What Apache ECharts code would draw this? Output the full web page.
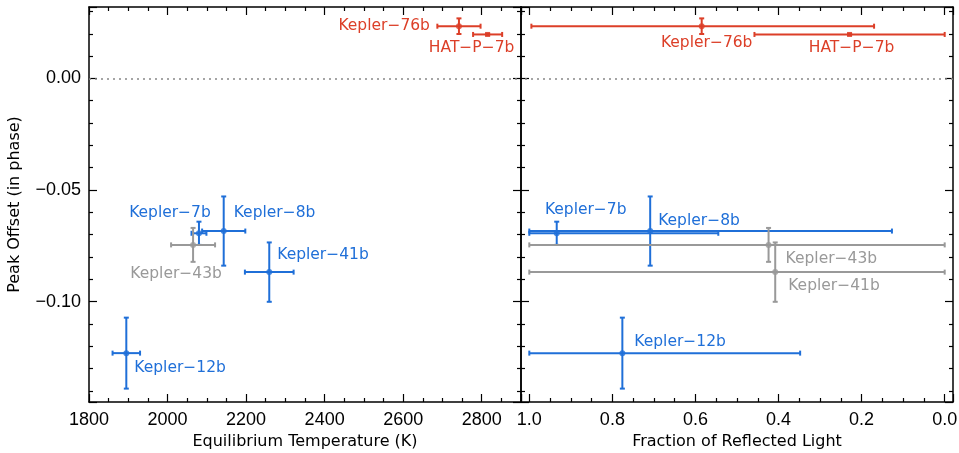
<!DOCTYPE html>
<html><head><meta charset="utf-8">
<script src="https://cdn.jsdelivr.net/npm/echarts@6/dist/echarts.min.js"></script>
<style>html,body{margin:0;padding:0;background:#fff}#c{width:959px;height:453px}</style>
</head><body><div id="c"></div>
<script>
// ---- data ----
const planets = ['Kepler-76b','HAT-P-7b','Kepler-7b','Kepler-8b','Kepler-43b','Kepler-41b','Kepler-12b'];
const groupsTemp = ['red','red','blue','blue','grey','blue','blue'];
const groupsRefl = ['red','red','blue','blue','grey','grey','blue'];
const teq = [2742, 2815, 2080, 2143, 2065, 2259, 1895];
const teqErr = [55, 37, 19, 55, 56, 62, 35];
const peakOffset = [0.0234, 0.0197, -0.0694, -0.0684, -0.0746, -0.0868, -0.1231];
const peakOffsetErr = [0.0035, 0.0004, 0.0052, 0.0155, 0.0076, 0.0133, 0.0159];
const reflFrac = [0.585, 0.229, 0.934, 0.709, 0.424, 0.408, 0.776];
const reflLow = [0.17, 0.0, 0.545, 0.127, 0.0, 0.0, 0.348];
const reflHigh = [0.995, 0.458, 1.0, 1.0, 1.0, 1.0, 1.0];
const tempTickLabels = [1800, 2000, 2200, 2400, 2600, 2800];
const reflTickLabels = [1.0, 0.8, 0.6, 0.4, 0.2, 0.0];
const offsetTickLabels = [0.00, -0.05, -0.10];

// ---- styles ----
const colors = {red: '#dc3f28', blue: '#1f6fd8', grey: '#999999'};
const labelFont = '15.5px "DejaVu Sans"';
const tickFont = 'Liberation Sans';
// label placement (pixel offsets from the point, style only)
const leftLabelPos = [
  {dx:-29, dy:0, align:'right'}, {dx:-16, dy:14, align:'center'}, {dx:-29, dy:-20, align:'center'},
  {dx:10, dy:-18, align:'left'}, {dx:-17, dy:29, align:'center'}, {dx:8, dy:-17, align:'left'},
  {dx:8, dy:15, align:'left'}
];
const rightLabelPos = [
  {dx:5, dy:17, align:'center'}, {dx:2, dy:14, align:'center'}, {dx:29, dy:-23, align:'center'},
  {dx:8, dy:-10, align:'left'}, {dx:17, dy:14, align:'left'}, {dx:13, dy:14, align:'left'},
  {dx:12, dy:-11, align:'left'}
];

const near = (v, arr, eps) => arr.some(a => Math.abs(a - v) < eps);
const fmtSigned = (v, d) => (v < -1e-9 ? '\u2212' : '') + Math.abs(v).toFixed(d);

function errRender(groups) {
  return function (params, api) {
    const x = api.value(0), y = api.value(1);
    const c = api.coord([x, y]);
    const l = api.coord([api.value(2), y]);
    const r = api.coord([api.value(3), y]);
    const t = api.coord([x, api.value(5)]);
    const b = api.coord([x, api.value(4)]);
    const color = colors[groups[api.value(6)]];
    const st = {stroke: color, lineWidth: 2, fill: null};
    const cap = 2.5;
    const L = (x1, y1, x2, y2) => ({type: 'line', shape: {x1, y1, x2, y2}, style: st});
    return {type: 'group', children: [
      L(l[0], c[1], r[0], c[1]),
      L(l[0], c[1] - cap, l[0], c[1] + cap),
      L(r[0], c[1] - cap, r[0], c[1] + cap),
      L(c[0], t[1], c[0], b[1]),
      L(c[0] - cap, t[1], c[0] + cap, t[1]),
      L(c[0] - cap, b[1], c[0] + cap, b[1])
    ]};
  };
}
function labelRender(pos, groups) {
  return function (params, api) {
    const i = api.value(2);
    const c = api.coord([api.value(0), api.value(1)]);
    const p = pos[i];
    return {type: 'text', x: c[0] + p.dx, y: c[1] + p.dy, style: {
      text: planets[i].replace(/-/g, '\u2212'), fill: colors[groups[i]], font: labelFont,
      align: p.align, verticalAlign: 'middle'}};
  };
}

const leftErr = planets.map((n, i) => [teq[i], peakOffset[i], teq[i] - teqErr[i], teq[i] + teqErr[i],
  peakOffset[i] - peakOffsetErr[i], peakOffset[i] + peakOffsetErr[i], i]);
const rightErr = planets.map((n, i) => [reflFrac[i], peakOffset[i], reflLow[i], reflHigh[i],
  peakOffset[i] - peakOffsetErr[i], peakOffset[i] + peakOffsetErr[i], i]);
const mkPts = (xs, groups) => planets.map((n, i) => ({value: [xs[i], peakOffset[i], i],
  symbol: n === 'HAT-P-7b' ? 'rect' : 'circle', symbolSize: n === 'HAT-P-7b' ? 5 : 6,
  itemStyle: {color: colors[groups[i]]}}));
const leftPts = mkPts(teq, groupsTemp);
const rightPts = mkPts(reflFrac, groupsRefl);

const axLine = {show: true, onZero: false, lineStyle: {color: '#000', width: 1.5}};
const axTick = {show: true, inside: true, length: 8, lineStyle: {color: '#000', width: 1.2}};
const minorT = n => ({show: true, splitNumber: n, length: 4, lineStyle: {color: '#000', width: 1.2}});
const nameStyle = {fontFamily: 'DejaVu Sans', fontSize: 16, color: '#000'};

const zeroLine = {silent: true, symbol: ['none', 'none'], label: {show: false},
  lineStyle: {type: [2, 4], color: '#888', width: 1.5}, data: [{yAxis: 0}], animation: false};

const yBase = {type: 'value', min: -0.145, max: 0.032, splitNumber: 3, axisLine: axLine, axisTick: axTick,
  minorTick: minorT(5), splitLine: {show: false}};
const option = {
  animation: false,
  backgroundColor: '#fff',
  grid: [
    {left: 89, top: 7, width: 432, height: 395, containLabel: false, outerBoundsMode: 'none'},
    {left: 521, top: 7, width: 432, height: 395, containLabel: false, outerBoundsMode: 'none'}
  ],
  xAxis: [
    {gridIndex: 0, type: 'value', position: 'bottom', min: 1800, max: 2900, interval: 200,
      axisLine: axLine, axisTick: axTick, minorTick: minorT(4), splitLine: {show: false},
      axisLabel: {margin: 9, fontFamily: tickFont, fontSize: 18, color: '#000', showMaxLabel: false,
        formatter: v => near(v, tempTickLabels, 1) ? String(v) : ''},
      name: 'Equilibrium Temperature (K)', nameLocation: 'middle', nameGap: 28, nameTextStyle: nameStyle},
    {gridIndex: 0, type: 'value', position: 'top', min: 1800, max: 2900, interval: 200,
      axisLine: axLine, axisTick: axTick, minorTick: minorT(4), splitLine: {show: false}, axisLabel: {show: false}},
    {gridIndex: 1, type: 'value', position: 'bottom', inverse: true, min: -0.02, max: 1.02, splitNumber: 5,
      axisLine: axLine, axisTick: axTick, minorTick: minorT(4), splitLine: {show: false},
      axisLabel: {margin: 9, fontFamily: tickFont, fontSize: 18, color: '#000', showMinLabel: false, showMaxLabel: false,
        formatter: v => near(v, reflTickLabels, 1e-6) ? v.toFixed(1) : ''},
      name: 'Fraction of Reflected Light', nameLocation: 'middle', nameGap: 28, nameTextStyle: nameStyle},
    {gridIndex: 1, type: 'value', position: 'top', inverse: true, min: -0.02, max: 1.02, splitNumber: 5,
      axisLine: axLine, axisTick: axTick, minorTick: minorT(4), splitLine: {show: false}, axisLabel: {show: false}}
  ],
  yAxis: [
    Object.assign({}, yBase, {gridIndex: 0, position: 'left',
      axisLabel: {margin: 8, fontFamily: tickFont, fontSize: 18, color: '#000', showMinLabel: false, showMaxLabel: false,
        formatter: v => near(v, offsetTickLabels, 1e-6) ? fmtSigned(v, 2) : ''},
      name: 'Peak Offset (in phase)', nameLocation: 'middle', nameGap: 66, nameTextStyle: nameStyle}),
    Object.assign({}, yBase, {gridIndex: 0, position: 'right', axisLabel: {show: false}}),
    Object.assign({}, yBase, {gridIndex: 1, position: 'left', axisLabel: {show: false}}),
    Object.assign({}, yBase, {gridIndex: 1, position: 'right', axisLabel: {show: false}})
  ],
  series: [
    {type: 'scatter', xAxisIndex: 0, yAxisIndex: 0, data: [], markLine: zeroLine, z: 1},
    {type: 'scatter', xAxisIndex: 2, yAxisIndex: 2, data: [], markLine: zeroLine, z: 1},
    {type: 'custom', xAxisIndex: 0, yAxisIndex: 0, data: leftErr, renderItem: errRender(groupsTemp), encode: {x: 0, y: 1}, z: 2},
    {type: 'custom', xAxisIndex: 2, yAxisIndex: 2, data: rightErr, renderItem: errRender(groupsRefl), encode: {x: 0, y: 1}, z: 2},
    {type: 'scatter', xAxisIndex: 0, yAxisIndex: 0, data: leftPts, z: 3},
    {type: 'scatter', xAxisIndex: 2, yAxisIndex: 2, data: rightPts, z: 3},
    {type: 'custom', xAxisIndex: 0, yAxisIndex: 0, data: leftPts.map(p => p.value), renderItem: labelRender(leftLabelPos, groupsTemp), encode: {x: 0, y: 1}, z: 4},
    {type: 'custom', xAxisIndex: 2, yAxisIndex: 2, data: rightPts.map(p => p.value), renderItem: labelRender(rightLabelPos, groupsRefl), encode: {x: 0, y: 1}, z: 4}
  ]
};
const chart = echarts.init(document.getElementById('c'), null, {renderer: 'canvas'});
chart.setOption(option);
</script></body></html>
